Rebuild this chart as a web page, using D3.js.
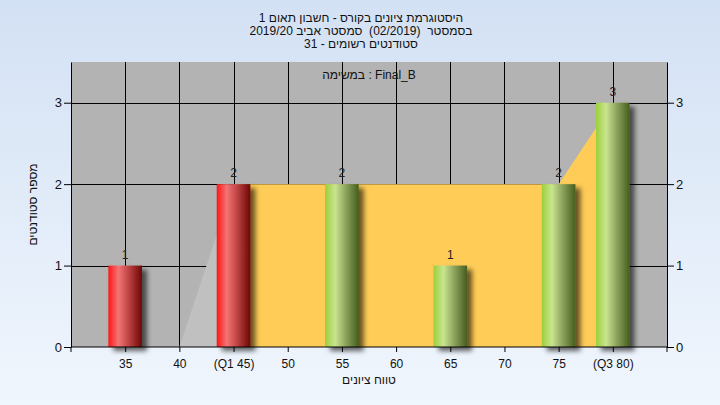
<!DOCTYPE html>
<html><head><meta charset="utf-8">
<script src="https://cdn.jsdelivr.net/npm/d3@7"></script>
<style>
html,body{margin:0;padding:0;}
svg{display:block;font-family:"Liberation Sans",Arial,sans-serif;}
</style></head>
<body>
<svg id="c" width="720" height="405"></svg>
<script>
// ---- data ----
const categories = [35, 40, 45, 50, 55, 60, 65, 70, 75, 80];
const tickLabels = ["35", "40", "(Q1 45)", "50", "55", "60", "65", "70", "75", "(Q3 80)"];
const counts = [1, 0, 2, 0, 2, 0, 1, 0, 2, 3];
const q1 = 45, q3 = 80;
const lowAreaX = [40, 45];
const lowAreaY = [0, 2];
const iqrAreaX = [45, 50, 55, 60, 65, 70, 75, 80];
const iqrAreaY = [2, 2, 2, 2, 2, 2, 2, 3];
const yTicks = [0, 1, 2, 3];
const titleLines = ["היסטוגרמת ציונים בקורס - חשבון תאום 1", "בסמסטר  (02/2019)  סמסטר אביב 2019/20", "סטודנטים רשומים - 31"];
const taskLabel = "במשימה : Final_B";
const xTitle = "טווח ציונים";
const yTitle = "מספר סטודנטים";

// ---- layout ----
const svg = d3.select("#c");
const L = 71, R = 667, T = 62, B = 347;
const x = d3.scaleLinear().domain([30, 85]).range([L, R]);
const y = d3.scaleLinear().domain([0, 3.5]).range([B, T]);

const defs = svg.append("defs");
const bg = defs.append("linearGradient").attr("id", "bg").attr("x1", 0).attr("y1", 0).attr("x2", 0).attr("y2", 1);
bg.append("stop").attr("offset", "0%").attr("stop-color", "#d3e1f4");
bg.append("stop").attr("offset", "100%").attr("stop-color", "#f0f6fd");
function cyl(id, stops) {
  const g = defs.append("linearGradient").attr("id", id).attr("x1", 0).attr("y1", 0).attr("x2", 1).attr("y2", 0);
  stops.forEach(s => g.append("stop").attr("offset", s[0]).attr("stop-color", s[1]));
}
cyl("red", [["0%", "#ff1515"], ["30%", "#f27575"], ["60%", "#c04444"], ["100%", "#6c0606"]]);
cyl("green", [["0%", "#9ccf3c"], ["30%", "#c9e58f"], ["60%", "#8fa660"], ["100%", "#465d1d"]]);
const f = defs.append("filter").attr("id", "sh").attr("x", "-20%").attr("y", "-20%").attr("width", "160%").attr("height", "140%");
f.append("feDropShadow").attr("dx", 5).attr("dy", 4).attr("stdDeviation", 2.5).attr("flood-color", "#000").attr("flood-opacity", 0.6);

svg.append("rect").attr("width", 720).attr("height", 405).attr("fill", "url(#bg)");
svg.append("rect").attr("x", L).attr("y", T).attr("width", R - L).attr("height", B - T).attr("fill", "#b3b3b3");

// gridlines
const grid = svg.append("g").attr("stroke", "#000").attr("stroke-width", 1);
yTicks.filter(v => v > 0).forEach(v => grid.append("line").attr("x1", L).attr("x2", R).attr("y1", Math.round(y(v)) + 0.5).attr("y2", Math.round(y(v)) + 0.5));
categories.forEach(c => grid.append("line").attr("x1", Math.round(x(c)) + 0.5).attr("x2", Math.round(x(c)) + 0.5).attr("y1", T).attr("y2", B));

// areas
const area = d3.area().x(d => x(d[0])).y0(y(0)).y1(d => y(d[1]));
svg.append("path").datum(lowAreaX.map((v, i) => [v, lowAreaY[i]])).attr("d", area).attr("fill", "#c0c0c0");
svg.append("path").datum(iqrAreaX.map((v, i) => [v, iqrAreaY[i]])).attr("d", area).attr("fill", "#fecc57");

// bars
const bw = x(31.55) - x(30);
svg.append("g").selectAll("rect").data(categories.map((c, i) => ({c, v: counts[i]})).filter(d => d.v > 0))
  .join("rect")
  .attr("x", d => x(d.c) - bw).attr("width", bw * 2)
  .attr("y", d => y(d.v)).attr("height", d => y(0) - y(d.v))
  .attr("fill", d => d.c <= q1 ? "url(#red)" : "url(#green)")
  .attr("filter", "url(#sh)");

// value labels
svg.append("g").selectAll("text").data(categories.map((c, i) => ({c, v: counts[i]})).filter(d => d.v > 0))
  .join("text")
  .attr("x", d => x(d.c)).attr("y", d => y(d.v) - 7)
  .attr("text-anchor", "middle").attr("font-size", 12).attr("fill", "#222").text(d => d.v);

// axes
const ax = svg.append("g").attr("transform", `translate(0,${B})`)
  .call(d3.axisBottom(x).tickValues(categories).tickFormat((d, i) => tickLabels[i]).tickSizeInner(5).tickSizeOuter(5));
const ayl = svg.append("g").attr("transform", `translate(${L},0)`)
  .call(d3.axisLeft(y).tickValues(yTicks).tickFormat(d3.format("d")).tickSizeInner(7).tickSizeOuter(0));
const ayr = svg.append("g").attr("transform", `translate(${R},0)`)
  .call(d3.axisRight(y).tickValues(yTicks).tickFormat(d3.format("d")).tickSizeInner(7).tickSizeOuter(0));
[ax, ayl, ayr].forEach(g => {
  g.selectAll("path,line").attr("stroke", "#000");
  g.selectAll("text").attr("font-size", 12).attr("fill", "#111").attr("font-family", "Liberation Sans, Arial, sans-serif");
});
ayl.selectAll("text").attr("font-size", 13);
ayr.selectAll("text").attr("font-size", 13);
ax.selectAll("text").attr("dy", "1.05em");
ayl.selectAll("text").attr("x", -9);
ayr.selectAll("text").attr("x", 9);
ax.select(".domain").attr("d", `M${L},5V0H${R}V5`);

// titles
titleLines.forEach((t, i) => svg.append("text").attr("x", 361).attr("y", 22 + i * 13)
  .attr("text-anchor", "middle").attr("direction", "rtl").style("white-space", "pre")
  .attr("font-size", 12).attr("fill", "#111").text(t));
svg.append("text").attr("x", (L + R) / 2).attr("y", 79).attr("text-anchor", "middle")
  .attr("font-size", 12).attr("fill", "#111").text(taskLabel);
svg.append("text").attr("x", (L + R) / 2).attr("y", 384).attr("text-anchor", "middle").attr("direction", "rtl")
  .attr("font-size", 12).attr("fill", "#111").text(xTitle);
svg.append("text").attr("transform", `translate(37,${(T + B) / 2}) rotate(-90)`).attr("text-anchor", "middle").attr("direction", "rtl")
  .attr("font-size", 12).attr("fill", "#111").text(yTitle);
</script>
</body></html>
